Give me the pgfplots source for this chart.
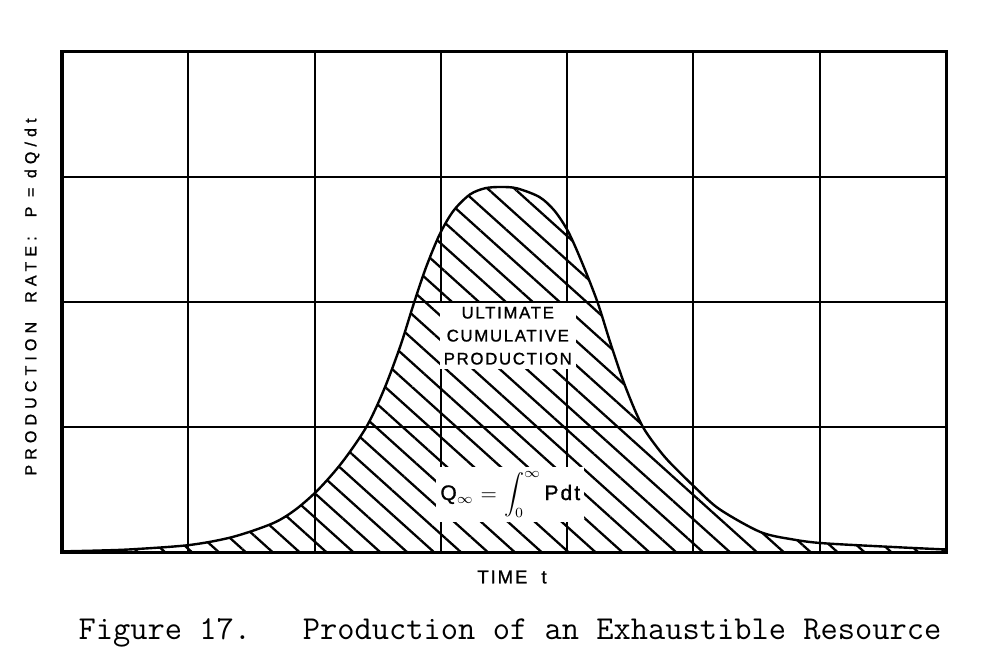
\documentclass[border=0pt]{standalone}
\usepackage{fontspec}
\usepackage{pgfplots}
\pgfplotsset{compat=1.18}
\usetikzlibrary{patterns.meta}
\newfontfamily\lbl[LetterSpace=10,FakeBold=1.2]{Liberation Sans}
\newfontfamily\lblwide[LetterSpace=32,FakeBold=1.2]{Liberation Sans}
\pgfplotstableread{
x y
0.00 0.005
0.30 0.012
0.56 0.022
1.01 0.056
1.35 0.12
1.67 0.23
1.85 0.34
2.03 0.50
2.22 0.72
2.41 1.00
2.55 1.30
2.68 1.65
2.78 1.97
2.88 2.27
2.99 2.54
3.10 2.73
3.23 2.86
3.35 2.91
3.47 2.92
3.60 2.91
3.78 2.84
3.90 2.73
4.01 2.56
4.12 2.31
4.24 2.00
4.34 1.68
4.44 1.38
4.53 1.15
4.60 1.00
4.68 0.88
4.80 0.73
5.03 0.50
5.21 0.34
5.53 0.16
5.79 0.10
6.03 0.07
6.58 0.04
7.00 0.02
}\curve
\begin{document}
\begin{tikzpicture}
\path[use as bounding box] (-31pt,-59pt) rectangle (466pt,276pt);
\begin{axis}[at={(0,0)}, anchor=south west, scale only axis,
  width=442pt, height=250pt,
  xmin=0, xmax=7, ymin=0, ymax=4,
  xtick={0,...,7}, ytick={0,...,4},
  xticklabels={}, yticklabels={},
  major tick length=0pt,
  grid=major, grid style={black, line width=1pt},
  axis line style={black, line width=1.5pt},
]
\addplot[draw=none, pattern={Lines[angle=-42, distance=9pt, line width=1.15pt]}, smooth] table {\curve} \closedcycle;
\addplot[black, line width=1.2pt, smooth] table {\curve};
\node[fill=white, inner sep=2pt, align=center, font={\fontsize{8.4}{11.5}\selectfont\lbl}] at (axis cs:3.53,1.73) {ULTIMATE\\CUMULATIVE\\PRODUCTION};
\node[fill=white, inner sep=2pt, font={\fontsize{10.5}{13}\selectfont}] at (axis cs:3.55,0.46) {{\lbl Q}$_{\infty}$ = $\displaystyle\int_0^{\infty}$\,{\lbl Pdt}};
\end{axis}
\node[rotate=90, font={\fontsize{8}{9}\selectfont\lblwide}] at (-15pt,127.5pt) {PRODUCTION\ \ RATE:\ \ P = dQ/dt};
\node[font={\fontsize{9.3}{10}\selectfont\lbl}] at (225pt,-12.5pt) {TIME\ \ t};
\node[font={\fontsize{16.75}{18}\selectfont\ttfamily\addfontfeature{FakeBold=1.2}}] at (224pt,-40.5pt) {Figure 17.\ \ \ Production of an Exhaustible Resource};
\end{tikzpicture}
\end{document}
